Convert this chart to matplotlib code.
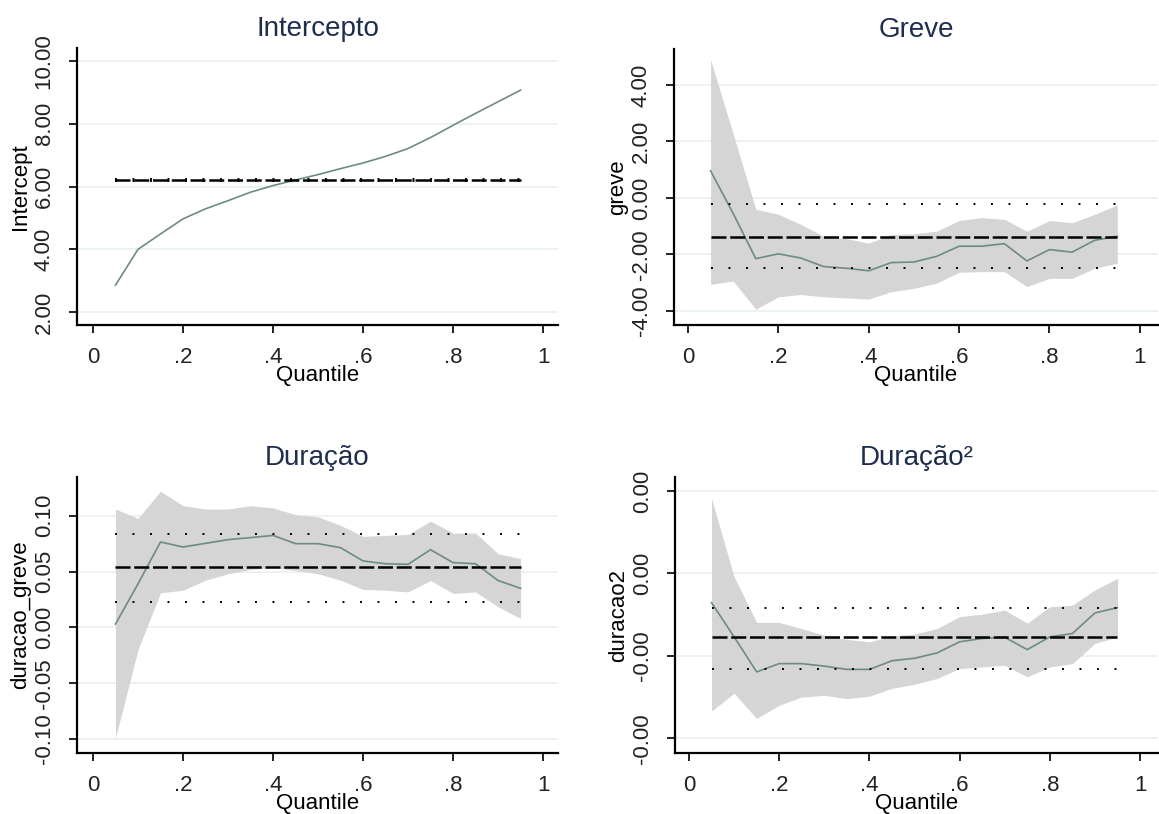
import numpy as np
import matplotlib
matplotlib.use('Agg')
from matplotlib import pyplot as plt
from matplotlib.ticker import FormatStrFormatter

plt.rcParams['font.family'] = ['Liberation Sans', 'DejaVu Sans']

q = [0.05, 0.10, 0.15, 0.20, 0.25, 0.30, 0.35, 0.40, 0.45, 0.50,
     0.55, 0.60, 0.65, 0.70, 0.75, 0.80, 0.85, 0.90, 0.95]

# Intercepto
int_coef = [2.86, 4.00, 4.49, 4.97, 5.29, 5.55, 5.82, 6.03, 6.21, 6.38,
            6.57, 6.75, 6.96, 7.21, 7.56, 7.95, 8.33, 8.70, 9.07]
int_ols = [6.21, 6.17, 6.25]

# Greve
greve_coef = [0.96, -0.55, -2.15, -1.98, -2.13, -2.43, -2.49, -2.58, -2.29, -2.27,
              -2.07, -1.71, -1.71, -1.62, -2.23, -1.83, -1.92, -1.50, -1.36]
greve_hi = [4.89, 2.27, -0.40, -0.58, -0.94, -1.36, -1.44, -1.60, -1.30, -1.27,
            -1.18, -0.80, -0.70, -0.76, -1.18, -0.80, -0.88, -0.58, -0.25]
greve_lo = [-3.06, -2.94, -3.94, -3.50, -3.42, -3.50, -3.54, -3.58, -3.32, -3.20,
            -3.02, -2.63, -2.61, -2.61, -3.14, -2.85, -2.85, -2.49, -2.31]
greve_ols = [-1.37, -0.20, -2.49]

# Duracao
dur_coef = [0.003, 0.039, 0.0765, 0.072, 0.0753, 0.0786, 0.0804, 0.0824, 0.075, 0.075,
            0.0714, 0.0595, 0.057, 0.0565, 0.0696, 0.058, 0.057, 0.042, 0.035]
dur_hi = [0.106, 0.0976, 0.122, 0.109, 0.106, 0.106, 0.109, 0.107, 0.101, 0.099,
          0.0914, 0.0815, 0.0824, 0.0833, 0.0952, 0.0845, 0.0845, 0.066, 0.0616]
dur_lo = [-0.099, -0.020, 0.031, 0.0333, 0.0423, 0.048, 0.052, 0.0536, 0.051, 0.048,
          0.0423, 0.034, 0.0333, 0.0318, 0.042, 0.0304, 0.0318, 0.0185, 0.008]
dur_ols = [0.0542, 0.084, 0.023]

# Duracao^2 (x 1e-4)
dur2_coef = [0.29, -0.54, -1.39, -1.19, -1.19, -1.25, -1.33, -1.33, -1.12, -1.06,
             -0.93, -0.66, -0.58, -0.55, -0.85, -0.54, -0.46, 0.04, 0.17]
dur2_hi = [2.82, 0.92, -0.19, -0.19, -0.34, -0.50, -0.60, -0.66, -0.52, -0.47,
           -0.34, -0.05, 0.01, 0.11, -0.21, 0.19, 0.23, 0.60, 0.88]
dur2_lo = [-2.34, -1.91, -2.52, -2.20, -2.00, -1.96, -2.04, -1.98, -1.79, -1.69,
           -1.55, -1.31, -1.27, -1.23, -1.51, -1.27, -1.19, -0.70, -0.54]
dur2_ols = [-0.55, 0.17, -1.33]

titles = ['Intercepto', 'Greve', 'Duração', 'Duração²']
ylabels = ['Intercept', 'greve', 'duracao_greve', 'duracao2']
xticks = [0, 0.2, 0.4, 0.6, 0.8, 1]
xticklabels = ['0', '.2', '.4', '.6', '.8', '1']

line_c = '#6e8c7e'
band_c = '#d5d5d5'
grid_c = '#e9eff0'
title_c = '#1f2d4d'

s = 1e-4
panels = [
    (int_coef, None, None, int_ols, [2, 4, 6, 8, 10], (1.59, 10.41)),
    (greve_coef, greve_hi, greve_lo, greve_ols, [-4, -2, 0, 2, 4], (-4.50, 5.27)),
    (dur_coef, dur_hi, dur_lo, dur_ols, [-0.10, -0.05, 0, 0.05, 0.10], (-0.1125, 0.1347)),
    ([v * s for v in dur2_coef], [v * s for v in dur2_hi], [v * s for v in dur2_lo],
     [v * s for v in dur2_ols], [-3 * s, -1 * s, 1 * s, 3 * s], (-3.36 * s, 3.34 * s)),
]

rects = [
    [0.0664, 0.6007, 0.415, 0.3403],
    [0.5815, 0.6007, 0.4176, 0.3391],
    [0.0664, 0.0749, 0.415, 0.3391],
    [0.5824, 0.0749, 0.4168, 0.3391],
]
xlims = [(-0.0356, 1.033), (-0.031, 1.04), (-0.0356, 1.033), (-0.031, 1.04)]

fig = plt.figure(figsize=(11.59, 8.14), dpi=100)

for i, (coef, hi, lo, ols, yt, ylim) in enumerate(panels):
    ax = fig.add_axes(rects[i])
    if hi is not None:
        ax.fill_between(q, lo, hi, color=band_c, lw=0, zorder=1)
    ax.plot(q, coef, color=line_c, lw=1.2, zorder=3)
    ax.hlines(ols[0], q[0], q[-1], colors='black', lw=1.8,
              linestyles=(0, (6, 1.5)), zorder=4)
    for v in ols[1:]:
        ax.hlines(v, q[0], q[-1], colors='black', lw=1.4,
                  linestyles=(0, (1, 8)), zorder=4)
    ax.set_xlim(*xlims[i])
    ax.set_ylim(*ylim)
    ax.set_xticks(xticks)
    ax.set_xticklabels(xticklabels)
    ax.set_yticks(yt)
    ax.yaxis.set_major_formatter(FormatStrFormatter('%.2f'))
    for t in yt:
        ax.axhline(t, color=grid_c, lw=1.2, zorder=0)
    ax.spines['top'].set_visible(False)
    ax.spines['right'].set_visible(False)
    ax.spines['left'].set_linewidth(1.6)
    ax.spines['bottom'].set_linewidth(1.6)
    ax.tick_params(axis='both', length=6, width=1.4, labelsize=16, pad=10,
                   colors='#222222')
    for lab in ax.get_yticklabels():
        lab.set_rotation(90)
        lab.set_va('center')
    ax.set_title(titles[i], fontsize=20, color=title_c, pad=8.5)
    ax.set_xlabel('Quantile', fontsize=16, labelpad=-2)
    ax.set_ylabel(ylabels[i], fontsize=16, labelpad=2)

fig.savefig('out.png', dpi=100)
